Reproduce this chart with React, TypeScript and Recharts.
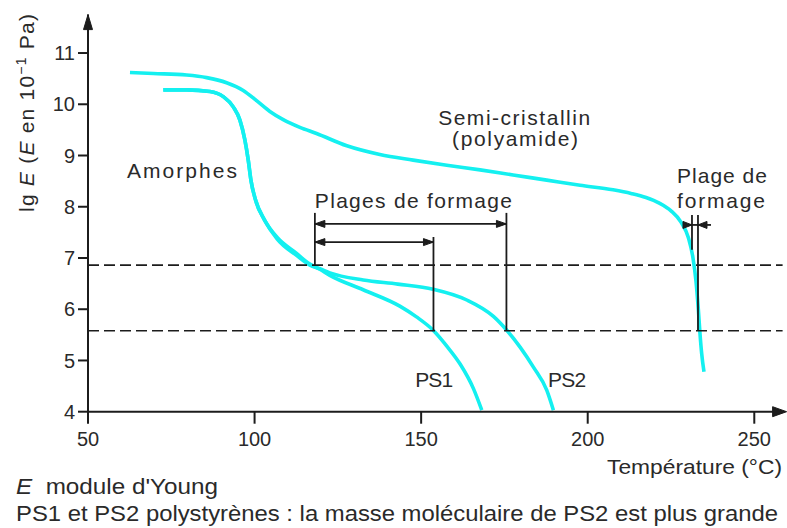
import React from 'react';
import { LineChart, Line, XAxis, YAxis, ReferenceLine, ReferenceDot } from 'recharts';

// ---------- data ----------
const xTicks = [50, 100, 150, 200, 250];
const yTicks = [4, 5, 6, 7, 8, 9, 10, 11];
const X_MIN = 50;
const X_MAX = 258.5;
const Y_MIN = 4;
const Y_MAX = 11.75;

// Semi-cristallin (polyamide)
const semiT = [62.6, 69.6, 79.6, 85.6, 91.6, 96.6, 100.6, 104.6, 108.6, 113.6, 118.6, 127.7, 137.6, 147.6, 157.7, 167.7, 177.6, 187.7, 197.7, 207.6, 213.0, 217.5, 221.5, 225.0, 228.0, 230.2, 231.6, 232.5, 233.2, 233.7, 234.2, 234.9];
const semiE = [10.62, 10.6, 10.57, 10.52, 10.42, 10.27, 10.07, 9.86, 9.7, 9.55, 9.43, 9.19, 9.02, 8.91, 8.81, 8.72, 8.62, 8.52, 8.42, 8.33, 8.26, 8.18, 8.07, 7.92, 7.7, 7.4, 7.0, 6.55, 6.0, 5.53, 5.14, 4.78];

// Amorphes : PS1
const ps1T = [72.6, 79.6, 86.6, 90.6, 93.6, 95.6, 97.1, 98.1, 98.9, 100.3, 103.0, 106.8, 112.6, 116.6, 119.6, 122.6, 132.6, 143.6, 148.6, 153.6, 157.7, 161.7, 165.7, 168.2];
const ps1E = [10.28, 10.28, 10.25, 10.15, 9.95, 9.69, 9.3, 8.91, 8.52, 8.13, 7.74, 7.4, 7.09, 6.88, 6.78, 6.66, 6.38, 6.06, 5.85, 5.59, 5.28, 4.93, 4.45, 4.03];

// Amorphes : PS2
const ps2T = [72.6, 79.6, 86.6, 90.6, 93.6, 95.6, 97.1, 98.1, 98.9, 100.3, 103.0, 106.8, 112.6, 116.6, 119.6, 122.6, 132.6, 143.0, 153.6, 163.7, 171.7, 175.7, 179.7, 183.7, 187.7, 189.7];
const ps2E = [10.28, 10.28, 10.25, 10.15, 9.95, 9.69, 9.3, 8.91, 8.52, 8.13, 7.74, 7.37, 7.05, 6.86, 6.79, 6.71, 6.57, 6.49, 6.39, 6.18, 5.86, 5.59, 5.26, 4.87, 4.42, 4.03];

// forming range levels (dashed) and brackets
const levelHigh = 6.86;
const levelLow = 5.58;
const psStartT = 118.1;
const ps1EndT = 153.7;
const ps2EndT = 175.6;
const psBracketTopE = 7.88;
const ps2ArrowE = 7.665;
const ps1ArrowE = 7.31;
const ps1BracketTopE = 7.41;

const paLeftT = 231.3;
const paRightT = 233.1;
const paTopE = 7.84;
const paLeftBottomE = 7.16;
const paArrowE = 7.645;
const paArrowFromT = 228.6;
const paArrowToT = 237.0;

// annotations (anchor in data units)
const notes = [
  { text: 'Amorphes', t: 61.7, e: 8.56, w: 110 },
  { text: 'Semi-cristallin', t: 155.1, e: 9.6, w: 152 },
  { text: '(polyamide)', t: 159.3, e: 9.19, w: 126 },
  { text: 'Plages de formage', t: 118.1, e: 7.98, w: 197 },
  { text: 'Plage de', t: 226.8, e: 8.46, w: 90 },
  { text: 'formage', t: 226.8, e: 7.98, w: 88 },
  { text: 'PS1', t: 148.2, e: 4.48, w: 38 },
  { text: 'PS2', t: 188.1, e: 4.48, w: 38 },
];

// ---------- style ----------
const FONT = "'Liberation Sans', Arial, Helvetica, sans-serif";
const CYAN = '#14f0f0';
const INK = '#1c1c1c';
const TEXT = '#2a2a2a';

const rows = (t: number[], e: number[]) => t.map((v, i) => ({ t: v, e: e[i] }));
const semiRows = rows(semiT, semiE);
const ps1Rows = rows(ps1T, ps1E);
const ps2Rows = rows(ps2T, ps2E);

const arrowShape = (dir: 'left' | 'right' | 'up' | 'axisRight', len = 10, half = 3.5) => (p: any) => {
  const { cx, cy } = p;
  let pts = '';
  if (dir === 'left') pts = `${cx},${cy} ${cx + len},${cy - half} ${cx + len},${cy + half}`;
  else if (dir === 'right') pts = `${cx},${cy} ${cx - len},${cy - half} ${cx - len},${cy + half}`;
  else if (dir === 'up') pts = `${cx},${cy} ${cx - half},${cy + len} ${cx + half},${cy + len}`;
  else pts = `${cx + 4},${cy} ${cx - len + 4},${cy - half} ${cx - len + 4},${cy + half}`;
  return <polygon points={pts} fill={INK} stroke={INK} strokeWidth={1} />;
};

const textShape = (text: string, w: number) => (p: any) => (
  <text x={p.cx} y={p.cy} fontFamily={FONT} fontSize={21} fill={TEXT} textLength={w} lengthAdjust="spacing">
    {text}
  </text>
);

const seg = (t1: number, e1: number, t2: number, e2: number, key: string) => (
  <ReferenceLine
    key={key}
    segment={[{ x: t1, y: e1 }, { x: t2, y: e2 }]}
    stroke={INK}
    strokeWidth={1.8}
    ifOverflow="visible"
  />
);

export default function App() {
  return (
    <div style={{ position: 'absolute', left: 0, top: 0, width: 787, height: 528, background: '#fff' }}>
      <LineChart
        width={787}
        height={528}
        margin={{ top: 14.6, right: 4.4, left: 28, bottom: 86.3 }}
      >
        <XAxis
          type="number"
          dataKey="t"
          domain={[X_MIN, X_MAX]}
          ticks={xTicks}
          allowDataOverflow
          height={30}
          tickSize={12}
          tickMargin={8}
          axisLine={{ stroke: INK, strokeWidth: 2 }}
          tickLine={{ stroke: INK, strokeWidth: 2 }}
          tick={{ fontFamily: FONT, fontSize: 20, fill: TEXT }}
        />
        <YAxis
          type="number"
          dataKey="e"
          domain={[Y_MIN, Y_MAX]}
          ticks={yTicks}
          allowDataOverflow
          width={60}
          tickSize={10}
          tickMargin={3}
          axisLine={{ stroke: INK, strokeWidth: 2 }}
          tickLine={{ stroke: INK, strokeWidth: 2 }}
          tick={{ fontFamily: FONT, fontSize: 20, fill: TEXT }}
        />

        <Line data={semiRows} dataKey="e" type="monotone" stroke={CYAN} strokeWidth={3.6} dot={false} isAnimationActive={false} />
        <Line data={ps1Rows} dataKey="e" type="monotone" stroke={CYAN} strokeWidth={3.6} dot={false} isAnimationActive={false} />
        <Line data={ps2Rows} dataKey="e" type="monotone" stroke={CYAN} strokeWidth={3.6} dot={false} isAnimationActive={false} />

        <ReferenceLine y={levelHigh} stroke={INK} strokeWidth={1.6} strokeDasharray="11 5" />
        <ReferenceLine y={levelLow} stroke={INK} strokeWidth={1.6} strokeDasharray="11 5" />

        {seg(psStartT, psBracketTopE, psStartT, levelHigh, 's1')}
        {seg(ps2EndT, psBracketTopE, ps2EndT, levelLow, 's2')}
        {seg(ps1EndT, ps1BracketTopE, ps1EndT, levelLow, 's3')}
        {seg(psStartT, ps2ArrowE, ps2EndT, ps2ArrowE, 's4')}
        {seg(psStartT, ps1ArrowE, ps1EndT, ps1ArrowE, 's5')}
        {seg(paLeftT, paTopE, paLeftT, paLeftBottomE, 's6')}
        {seg(paRightT, paTopE, paRightT, levelLow, 's7')}
        {seg(paArrowFromT, paArrowE, paArrowToT, paArrowE, 's8')}

        <ReferenceDot x={psStartT} y={ps2ArrowE} shape={arrowShape('left')} ifOverflow="visible" />
        <ReferenceDot x={ps2EndT} y={ps2ArrowE} shape={arrowShape('right')} ifOverflow="visible" />
        <ReferenceDot x={psStartT} y={ps1ArrowE} shape={arrowShape('left')} ifOverflow="visible" />
        <ReferenceDot x={ps1EndT} y={ps1ArrowE} shape={arrowShape('right')} ifOverflow="visible" />
        <ReferenceDot x={paLeftT} y={paArrowE} shape={arrowShape('right', 9, 3.5)} ifOverflow="visible" />
        <ReferenceDot x={paRightT} y={paArrowE} shape={arrowShape('left', 9, 3.5)} ifOverflow="visible" />

        <ReferenceDot x={X_MAX} y={Y_MIN} shape={arrowShape('axisRight', 14, 5)} ifOverflow="visible" />
        <ReferenceDot x={X_MIN} y={Y_MAX} shape={arrowShape('up', 15, 4.5)} ifOverflow="visible" />

        {notes.map((n) => (
          <ReferenceDot key={n.text} x={n.t} y={n.e} shape={textShape(n.text, n.w)} ifOverflow="visible" />
        ))}
      </LineChart>

      <svg
        width={787}
        height={528}
        style={{ position: 'absolute', left: 0, top: 0, pointerEvents: 'none' }}
      >
        <text
          transform="translate(34,113) rotate(-90)"
          textAnchor="middle"
          fontFamily={FONT}
          fontSize={21}
          fill={TEXT}
          textLength={198}
          lengthAdjust="spacing"
        >
          lg <tspan fontStyle="italic">E</tspan> (<tspan fontStyle="italic">E</tspan> en 10
          <tspan dy={-8} fontSize={14}>−1</tspan>
          <tspan dy={8}> Pa)</tspan>
        </text>
        <text x={782} y={474} textAnchor="end" fontFamily={FONT} fontSize={21} fill={TEXT} textLength={175} lengthAdjust="spacingAndGlyphs">
          Température (°C)
        </text>
        <text x={16} y={494} fontFamily={FONT} fontSize={22} fill={TEXT} textLength={202} lengthAdjust="spacingAndGlyphs">
          <tspan fontStyle="italic">E</tspan>{'\u00a0\u00a0module d\'Young'}
        </text>
        <text x={16} y={521} fontFamily={FONT} fontSize={22} fill={TEXT} textLength={762} lengthAdjust="spacingAndGlyphs">
          PS1 et PS2 polystyrènes : la masse moléculaire de PS2 est plus grande
        </text>
      </svg>
    </div>
  );
}
